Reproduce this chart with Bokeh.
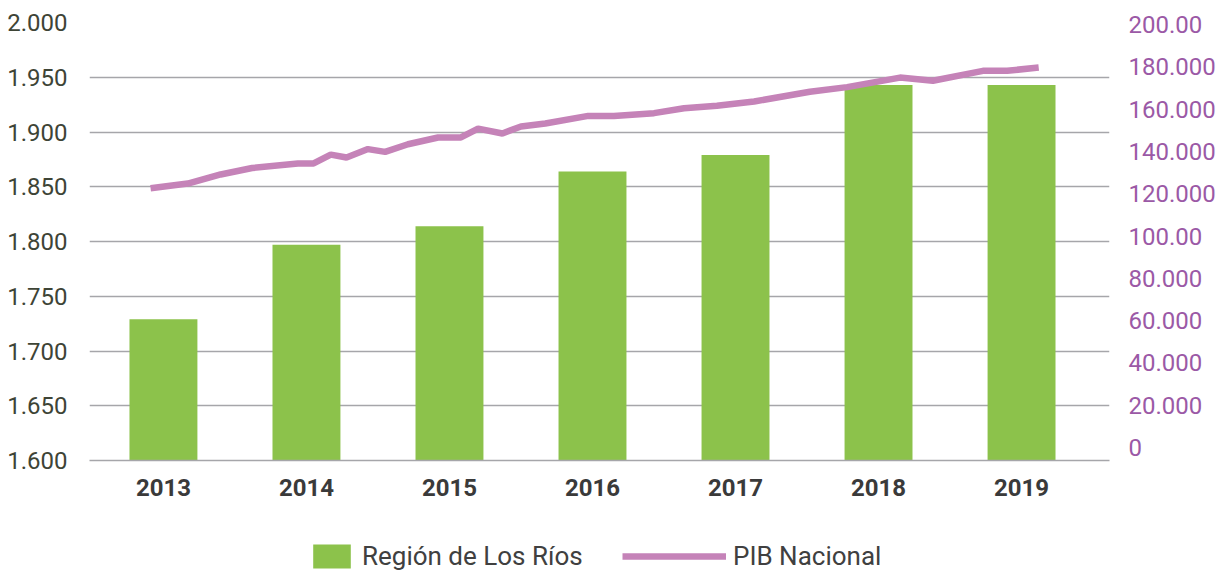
from bokeh.plotting import figure
from bokeh.layouts import column
from bokeh.models import Range1d, LinearAxis, FixedTicker, Legend, LegendItem
from bokeh.embed import file_html
from bokeh.resources import INLINE

# ---- data ----
years = ["2013", "2014", "2015", "2016", "2017", "2018", "2019"]
region_values = [1729, 1797, 1814, 1864, 1879, 1943, 1943]

# PIB Nacional: position along the year axis (0 = 2013 ... 6 = 2019) and value
pib_period = [-0.09, 0.17, 0.40, 0.62, 0.94, 1.05, 1.17, 1.28, 1.43, 1.55, 1.71,
              1.92, 2.08, 2.20, 2.37, 2.50, 2.67, 2.97, 3.15, 3.43, 3.64, 3.87,
              4.13, 4.52, 4.78, 5.15, 5.38, 5.73, 5.90, 6.12]
pib_values = [122600, 124800, 129100, 132150, 134300, 134300, 138500, 137100,
              141100, 139800, 143400, 146600, 146600, 150800, 148500, 151800,
              153200, 156800, 156800, 158100, 160400, 161600, 163600, 168200,
              170400, 174900, 173400, 178100, 178100, 179700]

left_ticks = [1600, 1650, 1700, 1750, 1800, 1850, 1900, 1950, 2000]
left_labels = ["1.600", "1.650", "1.700", "1.750", "1.800", "1.850", "1.900", "1.950", "2.000"]
right_ticks = [0, 20000, 40000, 60000, 80000, 100000, 120000, 140000, 160000, 180000, 200000]
right_labels = ["0", "20.000", "40.000", "60.000", "80.000", "100.00", "120.000",
                "140.000", "160.000", "180.000", "200.00"]

series_names = ["Región de Los Ríos", "PIB Nacional"]

FONT = "Roboto"
BAR_COLOR = "#8CC24B"
LINE_COLOR = "#C583B8"

p = figure(frame_width=1020, frame_height=438, output_backend="svg", toolbar_location=None,
           x_range=Range1d(-0.517, 6.615), y_range=Range1d(1600, 2000),
           min_border_left=89, min_border_right=0, min_border_top=22,
           min_border_bottom=60)
p.outline_line_color = None
p.extra_y_ranges = {"pib": Range1d(-6090, 200940)}

bars = p.vbar(x=list(range(len(years))), top=region_values, bottom=1600, width=0.475,
              color=BAR_COLOR, line_color=None)
line = p.line(x=pib_period, y=pib_values, y_range_name="pib", line_color=LINE_COLOR,
              line_width=6.5)

# left axis
ya = p.yaxis[0]
ya.ticker = FixedTicker(ticks=left_ticks)
ya.major_label_overrides = {t: l for t, l in zip(left_ticks, left_labels)}
ya.axis_line_color = None
ya.major_tick_line_color = None
ya.minor_tick_line_color = None
ya.major_label_standoff = 16
ya.major_label_text_font = FONT
ya.major_label_text_font_size = "24px"
ya.major_label_text_color = "#3E4436"

# right axis
ra = LinearAxis(y_range_name="pib", ticker=FixedTicker(ticks=right_ticks))
ra.major_label_overrides = {t: l for t, l in zip(right_ticks, right_labels)}
ra.axis_line_color = None
ra.major_tick_line_color = None
ra.minor_tick_line_color = None
ra.major_label_standoff = 13
ra.major_label_text_font = FONT
ra.major_label_text_font_size = "24px"
ra.major_label_text_color = "#9B59A6"
p.add_layout(ra, "right")

# bottom axis
xa = p.xaxis[0]
xa.ticker = FixedTicker(ticks=list(range(len(years))))
xa.major_label_overrides = {i: y for i, y in enumerate(years)}
xa.axis_line_color = "#A6A6AA"
xa.axis_line_width = 1.5
xa.major_tick_line_color = None
xa.minor_tick_line_color = None
xa.major_label_standoff = 12
xa.major_label_text_font = FONT
xa.major_label_text_font_size = "24px"
xa.major_label_text_font_style = "bold"
xa.major_label_text_color = "#3A3A3A"

p.xgrid.grid_line_color = None
p.ygrid.grid_line_color = "#A6A6AA"
p.ygrid.grid_line_width = 1.5

# ---- legend strip (frame aligned with the main plot's frame) ----
lf = figure(width=1218, height=52, output_backend="svg", toolbar_location=None,
            x_axis_location=None, y_axis_location=None,
            x_range=Range1d(0, 1), y_range=Range1d(0, 1),
            min_border=0)
lf.outline_line_color = None
lf.xgrid.visible = False
lf.ygrid.visible = False
# off-range proxy renderers, used only for the legend swatches
lb = lf.vbar(x=[-10], top=[-10], bottom=-11, width=0.1, color=BAR_COLOR, line_color=None)
ll = lf.line(x=[-10, -9], y=[-10, -10], line_color=LINE_COLOR, line_width=6.5)

def make_legend(item, loc, gw):
    return Legend(items=[item], location=loc, orientation="horizontal",
                  glyph_width=gw, glyph_height=30, label_standoff=7,
                  padding=0, margin=0, spacing=0,
                  border_line_color=None, background_fill_alpha=0,
                  label_text_font=FONT, label_text_font_size="26px",
                  label_text_color="#404040")

lf.add_layout(make_legend(LegendItem(label=series_names[0], renderers=[lb]), (219, 1), 47), "center")
lf.add_layout(make_legend(LegendItem(label=series_names[1], renderers=[ll]), (533, 1), 104), "center")

layout = column(p, lf, spacing=0)
open("out.html", "w").write(file_html(layout, INLINE))
